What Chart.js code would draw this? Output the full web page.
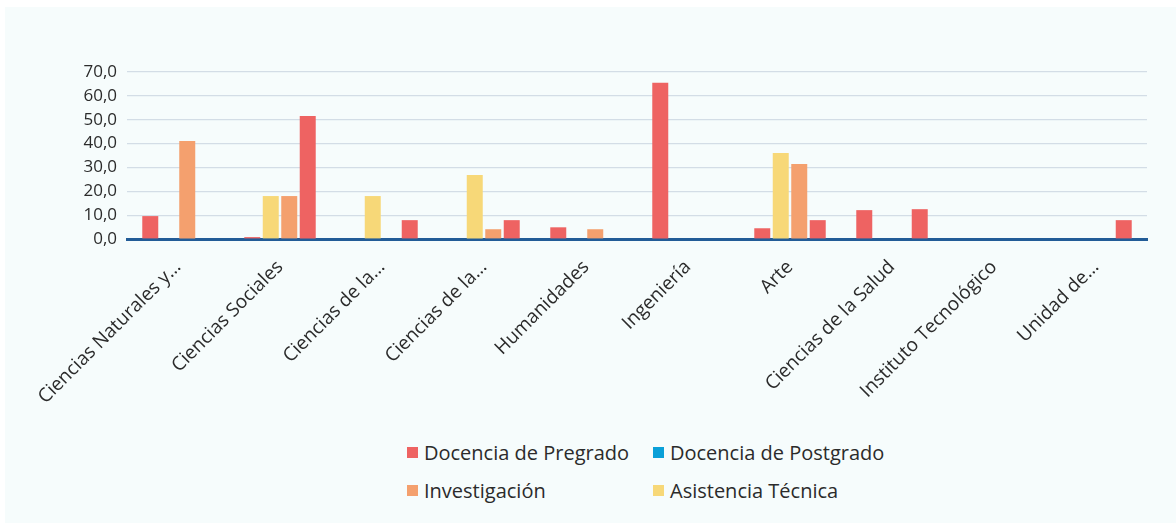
<!DOCTYPE html>
<html>
<head>
<meta charset="utf-8">
<script src="https://cdn.jsdelivr.net/npm/chart.js@4.4.1/dist/chart.umd.min.js"></script>
<style>
  html, body { margin: 0; padding: 0; background: #ffffff; }
  body { width: 1176px; height: 523px; position: relative; overflow: hidden; font-family: "Open Sans", sans-serif; }
  #panel { position: absolute; left: 5px; top: 7px; width: 1171px; height: 516px; background: #f6fcfc; }
  #wrap { position: absolute; left: 0; top: 0; width: 1176px; height: 430px; }
  #legend { position: absolute; left: 0; top: 0; }
  .item { position: absolute; display: flex; align-items: center; font-size: 20px; color: #2b2b2b; white-space: nowrap; }
  .box { width: 11px; height: 11px; margin-right: 6px; }
</style>
</head>
<body>
<div id="panel"></div>
<div id="wrap"><canvas id="barChart"></canvas></div>
<div id="legend"></div>
<script>
// Categories and series (bars appear in this slot order inside each group)
const categories = ['Ciencias Naturales y…','Ciencias Sociales','Ciencias de la…','Ciencias de la…','Humanidades','Ingeniería','Arte','Ciencias de la Salud','Instituto Tecnológico','Unidad de…'];
const pregrado     = [9.6, 0.8, 0, 0, 4.9, 65.5, 4.5, 12.1, 0, 0];
const asistencia   = [0, 18.0, 18.0, 26.8, 0, 0, 36.0, 0, 0, 0];
const investigacion = [41.1, 18.0, 0, 4.1, 4.1, 0, 31.4, 0, 0, 0];
const otros        = [0, 51.6, 7.9, 7.9, 0, 0, 7.9, 12.5, 0, 7.9];
const yTicks = [0, 10, 20, 30, 40, 50, 60, 70];

// Legend
const legendLabels = ['Docencia de Pregrado','Docencia de Postgrado','Investigación','Asistencia Técnica'];
const legendColors = ['#ee6362','#0aa0d8','#f4a06e','#f7d878'];

const legendPos = [[407, 453], [653, 453], [407, 491], [653, 491]];
const legendEl = document.getElementById('legend');
legendLabels.forEach((txt, i) => {
  const d = document.createElement('div');
  d.className = 'item';
  d.style.left = legendPos[i][0] + 'px';
  d.style.top = (legendPos[i][1] - 14) + 'px';
  d.innerHTML = '<span class="box" style="background:' + legendColors[i] + '"></span>' + txt;
  legendEl.appendChild(d);
});

const ctx = document.getElementById('barChart').getContext('2d');
const chart = new Chart(ctx, {
  type: 'bar',
  data: {
    labels: categories,
    datasets: [
      { label: 'Docencia de Pregrado', data: pregrado, backgroundColor: '#ee6362' },
      { label: 'Asistencia Técnica', data: asistencia, backgroundColor: '#f7d878' },
      { label: 'Investigación', data: investigacion, backgroundColor: '#f4a06e' },
      { label: 'Otros', data: otros, backgroundColor: '#ee6362' }
    ]
  },
  options: {
    responsive: true,
    maintainAspectRatio: false,
    animation: false,
    categoryPercentage: 0.725,
    barPercentage: 0.865,
    layout: { padding: { left: 0, right: 29, top: 72, bottom: 0 } },
    plugins: { legend: { display: false }, tooltip: { enabled: false } },
    scales: {
      x: {
        grid: { display: false },
        border: { color: '#225c97', width: 3 },
        ticks: { color: '#2b2b2b', font: { family: 'Open Sans', size: 19 }, maxRotation: 45, minRotation: 45, autoSkip: false, padding: 9 },
        afterFit: s => { s.height = 191; }
      },
      y: {
        min: 0, max: 70,
        afterBuildTicks: s => { s.ticks = yTicks.map(v => ({ value: v })); },
        grid: { color: '#d3dde6', lineWidth: 1.2, drawTicks: false },
        border: { display: false },
        ticks: { color: '#2b2b2b', font: { family: 'Open Sans', size: 17 }, padding: 10, autoSkip: false,
                 callback: v => v.toFixed(1).replace('.', ',') },
        afterFit: s => { s.width = 127; }
      }
    }
  }
});
</script>
</body>
</html>
